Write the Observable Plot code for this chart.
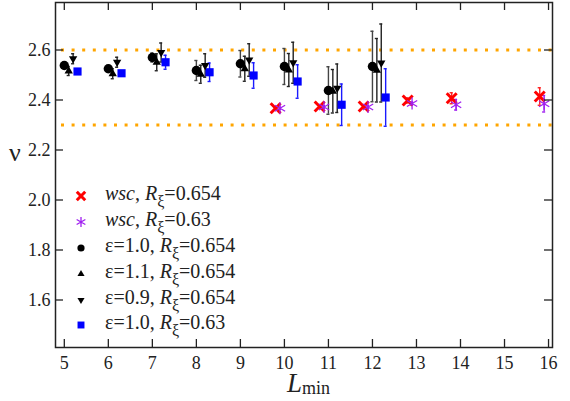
<!DOCTYPE html>
<html>
<head>
<meta charset="utf-8">
<script src="https://cdn.jsdelivr.net/npm/d3@7"></script>
<script src="https://cdn.jsdelivr.net/npm/@observablehq/plot@0.6"></script>
<style>
  html, body { margin: 0; padding: 0; background: #fff; }
  #chart { position: relative; width: 570px; height: 401px; }
  #chart svg text { font-family: 'Liberation Serif', 'DejaVu Serif', serif; }
</style>
</head>
<body>
<div id="chart"></div>
<script>
// ---- data ----
const xTicks = [5, 6, 7, 8, 9, 10, 11, 12, 13, 14, 15, 16];
const yTicks = [1.6, 1.8, 2.0, 2.2, 2.4, 2.6];
const refLines = [2.6, 2.3];

const Lblack = [5, 6, 7, 8, 9, 10, 11, 12];
const eps10_654_nu  = [2.538, 2.525, 2.570, 2.518, 2.545, 2.534, 2.438, 2.534];
const eps10_654_err = [0.008, 0.008, 0.018, 0.040, 0.053, 0.072, 0.095, 0.141];
const eps11_654_nu  = [2.516, 2.505, 2.551, 2.503, 2.525, 2.520, 2.435, 2.519];
const eps11_654_err = [0.018, 0.020, 0.034, 0.036, 0.050, 0.066, 0.087, 0.127];
const eps09_654_nu  = [2.565, 2.551, 2.590, 2.538, 2.560, 2.549, 2.447, 2.548];
const eps09_654_err = [0.020, 0.020, 0.038, 0.047, 0.065, 0.082, 0.097, 0.156];
const eps10_63_nu   = [2.514, 2.507, 2.551, 2.511, 2.498, 2.474, 2.381, 2.410];
const eps10_63_err  = [0.006, 0.008, 0.028, 0.037, 0.051, 0.067, 0.083, 0.115];

const Lwsc = [10, 11, 12, 13, 14, 16];
const wsc_654_nu  = [2.367, 2.374, 2.374, 2.398, 2.407, 2.414];
const wsc_654_err = [0.005, 0.005, 0.006, 0.010, 0.022, 0.035];
const wsc_63_nu   = [2.367, 2.372, 2.372, 2.386, 2.381, 2.385];
const wsc_63_err  = [0.004, 0.005, 0.005, 0.006, 0.021, 0.033];

const seriesNames = [
  "wsc, Rξ=0.654", "wsc, Rξ=0.63", "ε=1.0, Rξ=0.654",
  "ε=1.1, Rξ=0.654", "ε=0.9, Rξ=0.654", "ε=1.0, Rξ=0.63"
];
// horizontal offsets used in the figure to separate series
const xOffsets = [-0.2, -0.1, 0, 0.1, 0.2, 0.3];

// ---- symbols ----
const sqrt3 = Math.sqrt(3);
const triangleDown = {
  draw(context, size) {
    const y = -Math.sqrt(size / (sqrt3 * 3));
    context.moveTo(0, -y * 2);
    context.lineTo(-sqrt3 * y, y);
    context.lineTo(sqrt3 * y, y);
    context.closePath();
  }
};

const styles = [
  {symbol: "times",    fill: "none", stroke: "#ff0000", sw: 3,   r: 4.6, err: "#ff2020"},
  {symbol: "asterisk", fill: "none", stroke: "#a020f0", sw: 1.3, r: 5.6, err: "#a020f0"},
  {symbol: "circle",   fill: "#000", stroke: "none",    sw: 0,   r: 4.7, err: "#444"},
  {symbol: "triangle", fill: "#000", stroke: "none",    sw: 0,   r: 3.1, err: "#222"},
  {symbol: triangleDown, fill: "#000", stroke: "none",  sw: 0,   r: 3.1, err: "#222"},
  {symbol: "square",   fill: "#0000ff", stroke: "none", sw: 0,   r: 4.6, err: "#1a1aff"}
];

function build(i, Ls, nu, err) {
  return Ls.map((L, k) => ({series: i, x: L + xOffsets[i], y: nu[k], lo: nu[k] - err[k], hi: nu[k] + err[k]}));
}
const series = [
  build(0, Lwsc, wsc_654_nu, wsc_654_err),
  build(1, Lwsc, wsc_63_nu, wsc_63_err),
  build(2, Lblack, eps10_654_nu, eps10_654_err),
  build(3, Lblack, eps11_654_nu, eps11_654_err),
  build(4, Lblack, eps09_654_nu, eps09_654_err),
  build(5, Lblack, eps10_63_nu, eps10_63_err)
];

const xDomain = [4.8, 16.09];
const yDomain = [1.41, 2.79];
const capW = 0.035;
const tickLenX = 8 * (xDomain[1] - xDomain[0]) / 497;
const tickLenY = 8 * (yDomain[1] - yDomain[0]) / 345;
const serif = "'Liberation Serif', 'DejaVu Serif', serif";

const marks = [];
// reference dotted lines
marks.push(Plot.ruleY(refLines, {x1: xDomain[0], x2: xDomain[1], stroke: "#ffa500", strokeWidth: 3, strokeDasharray: "3,7.6", strokeDashoffset: 4.6}));
const drawOrder = [0, 1, 5, 4, 3, 2];
for (const i of drawOrder) {
  const s = styles[i], d = series[i];
  marks.push(Plot.ruleX(d, {x: "x", y1: "lo", y2: "hi", stroke: s.err, strokeWidth: 1.4}));
  marks.push(Plot.ruleY(d, {y: "lo", x1: v => v.x - capW, x2: v => v.x + capW, stroke: s.err, strokeWidth: 1.4}));
  marks.push(Plot.ruleY(d, {y: "hi", x1: v => v.x - capW, x2: v => v.x + capW, stroke: s.err, strokeWidth: 1.4}));
}
for (const i of drawOrder) {
  const s = styles[i], d = series[i];
  marks.push(Plot.dot(d, {x: "x", y: "y", symbol: s.symbol, r: s.r, fill: s.fill, stroke: s.stroke, strokeWidth: s.sw}));
}
// inward ticks on all four sides
marks.push(Plot.ruleX(xTicks, {x: d => d, y1: yDomain[0], y2: yDomain[0] + tickLenY, stroke: "#222", strokeWidth: 1.3}));
marks.push(Plot.ruleX(xTicks, {x: d => d, y1: yDomain[1], y2: yDomain[1] - tickLenY, stroke: "#222", strokeWidth: 1.3}));
marks.push(Plot.ruleY(yTicks, {y: d => d, x1: xDomain[0], x2: xDomain[0] + tickLenX, stroke: "#222", strokeWidth: 1.3}));
marks.push(Plot.ruleY(yTicks, {y: d => d, x1: xDomain[1], x2: xDomain[1] - tickLenX, stroke: "#222", strokeWidth: 1.3}));
marks.push(Plot.frame({stroke: "#222", strokeWidth: 1.5}));
marks.push(Plot.axisX(xTicks, {tickSize: 0, tickPadding: 9, fontSize: 18, fontFamily: serif, label: null, tickFormat: d => String(d)}));
marks.push(Plot.axisY(yTicks, {tickSize: 0, tickPadding: 5, fontSize: 18, fontFamily: serif, label: null, tickFormat: d3.format(".1f")}));

const plot = Plot.plot({
  width: 570,
  height: 401,
  marginLeft: 55,
  marginRight: 18,
  marginTop: 2,
  marginBottom: 54,
  x: {domain: xDomain},
  y: {domain: yDomain},
  style: {fontFamily: serif, color: "#222", background: "#fff", overflow: "visible"},
  marks
});

const svg = d3.select(plot);
// axis labels
svg.append("text").attr("x", 15).attr("y", 161).attr("text-anchor", "middle")
  .attr("font-size", 26).attr("fill", "#222").attr("font-family", serif).text("ν");
const xl = svg.append("text").attr("x", 287).attr("y", 392).attr("text-anchor", "start")
  .attr("font-family", serif).attr("fill", "#222");
xl.append("tspan").attr("font-style", "italic").attr("font-size", 27).text("L");
xl.append("tspan").attr("font-size", 18).attr("dy", 2).text("min");

// legend
const legendRowsY = [196, 222, 248, 274, 300, 325];
const lg = svg.append("g").attr("text-anchor", "start");
const symMap = {times: d3.symbolTimes, asterisk: d3.symbolAsterisk, circle: d3.symbolCircle, triangle: d3.symbolTriangle, square: d3.symbolSquare};
seriesNames.forEach((name, i) => {
  const s = styles[i];
  const y = legendRowsY[i];
  const symType = typeof s.symbol === "string" ? symMap[s.symbol] : s.symbol;
  const size = s.symbol === "circle" ? Math.PI * 3.6 * 3.6 : Math.PI * (s.r * 0.85) ** 2;
  lg.append("path").attr("transform", `translate(81,${y})`)
    .attr("d", d3.symbol(symType, size)())
    .attr("fill", s.fill).attr("stroke", s.stroke).attr("stroke-width", s.sw);
  const [pre, post] = name.split("Rξ");
  const t = lg.append("text").attr("x", 105).attr("y", y + 4).attr("font-size", 20)
    .attr("text-anchor", "start").attr("fill", "#222").attr("font-family", serif);
  if (pre.startsWith("wsc")) {
    t.append("tspan").attr("font-style", "italic").text("wsc");
    t.append("tspan").text(pre.slice(3));
  } else {
    t.append("tspan").text(pre);
  }
  t.append("tspan").attr("font-style", "italic").text("R");
  t.append("tspan").attr("dy", 7).attr("font-size", 16).text("ξ");
  t.append("tspan").attr("dy", -7).text(post);
});

document.getElementById("chart").appendChild(plot);
</script>
</body>
</html>
